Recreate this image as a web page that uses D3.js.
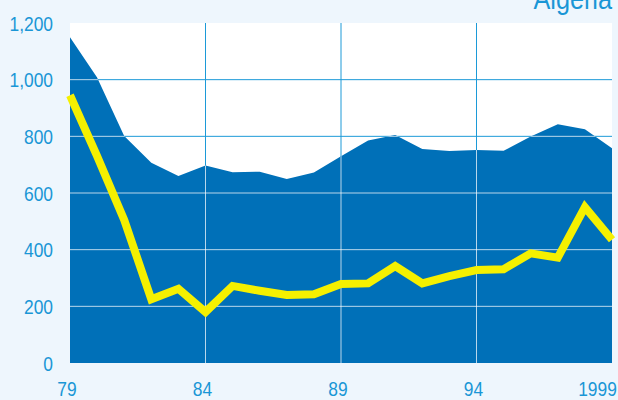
<!DOCTYPE html>
<html>
<head>
<meta charset="utf-8">
<script src="https://cdn.jsdelivr.net/npm/d3@7"></script>
<style>
  html, body { margin: 0; padding: 0; background: #eef6fd; }
  svg { display: block; }
  text { font-family: "Liberation Sans", Arial, sans-serif; }
</style>
</head>
<body>
<svg id="chart" width="618" height="400"></svg>
<script>
// data
const years = d3.range(1979, 2000);
const areaValues = [1150, 1008, 801, 707, 660, 697, 673, 675, 649, 672, 730,
                    785, 805, 755, 748, 752, 749, 799, 843, 825, 758];
const lineValues = [945, 730, 505, 225, 262, 180, 272, 255, 240, 243, 279,
                    281, 342, 281, 307, 328, 331, 387, 372, 550, 435];
const yTicks = [0, 200, 400, 600, 800, 1000, 1200];
const xTicks = [1979, 1984, 1989, 1994, 1999];
const xTickLabels = ["79", "84", "89", "94", "1999"];
const title = "Algeria";

const svg = d3.select("#chart"),
      m   = {top: 23, right: 6, bottom: 37, left: 70},
      iw  = 618 - m.left - m.right,
      ih  = 400 - m.top - m.bottom,
      squeeze = 0.87;   // labels are set in a narrow face

const x = d3.scaleLinear().domain([1979, 1999]).range([0, iw]);
const y = d3.scaleLinear().domain([0, 1200]).range([ih, 0]);

const g = svg.append("g")
    .attr("transform", `translate(${m.left},${m.top})`);

// plot background
g.append("rect")
  .attr("width", iw).attr("height", ih)
  .attr("fill", "#fff");

// grid lines
function grid(sel, stroke, opacity) {
  sel.append("g").selectAll("line")
    .data(yTicks.filter(d => d > 0 && d < 1200)).enter().append("line")
      .attr("x1", 0).attr("x2", iw)
      .attr("y1", d => y(d)).attr("y2", d => y(d))
      .attr("stroke", stroke).attr("stroke-opacity", opacity);
  sel.append("g").selectAll("line")
    .data(xTicks.filter(d => d > 1979 && d < 1999)).enter().append("line")
      .attr("y1", 0).attr("y2", ih)
      .attr("x1", d => x(d)).attr("x2", d => x(d))
      .attr("stroke", stroke).attr("stroke-opacity", opacity);
}
grid(g, "#1c9ad8", 1);   // blue on white

// area
const area = d3.area()
    .x((d, i) => x(years[i]))
    .y0(ih)
    .y1(d => y(d));

g.append("path")
  .datum(areaValues)
  .attr("d", area)
  .attr("fill", "#0070b8");

// light grid only where it crosses the blue area
g.append("clipPath").attr("id", "areaClip")
  .append("path").datum(areaValues).attr("d", area);
grid(g.append("g").attr("clip-path", "url(#areaClip)"), "#fff", 0.72);

// yellow line
const line = d3.line()
    .x((d, i) => x(years[i]))
    .y(d => y(d));

g.append("path")
  .datum(lineValues)
  .attr("d", line)
  .attr("fill", "none")
  .attr("stroke", "#f5f000")
  .attr("stroke-width", 8)
  .attr("stroke-linejoin", "miter");

// y axis
const yAxis = g.append("g")
  .attr("transform", "translate(-17,0)")
  .call(d3.axisLeft(y).tickValues(yTicks).tickFormat(d3.format(",")).tickSize(0).tickPadding(0));
yAxis.select(".domain").remove();
yAxis.selectAll("text")
  .attr("fill", "#1a96d6")
  .style("font-size", "20px")
  .attr("dy", "0.35em")
  .attr("transform", `scale(${squeeze},1)`);

// x axis
const xAxis = g.append("g")
  .attr("transform", `translate(0,${ih})`)
  .call(d3.axisBottom(x).tickValues(xTicks)
        .tickFormat((d, i) => xTickLabels[i]).tickSize(0).tickPadding(0));
xAxis.select(".domain").remove();
xAxis.selectAll("text")
  .attr("fill", "#1a96d6")
  .style("font-size", "20px")
  .attr("dy", 0)
  .attr("y", 33)
  .attr("x", (d, i) => i === xTicks.length - 1 ? 5 : -4)
  .attr("text-anchor", (d, i) => i === xTicks.length - 1 ? "end" : "middle")
  .attr("transform", `scale(${squeeze},1)`);

// title, cut off at the top edge as in the original
svg.append("text")
  .attr("transform", `translate(612,9) scale(${squeeze},1)`)
  .attr("text-anchor", "end")
  .attr("fill", "#1a96d6")
  .style("font-size", "29px")
  .text(title);
</script>
</body>
</html>
